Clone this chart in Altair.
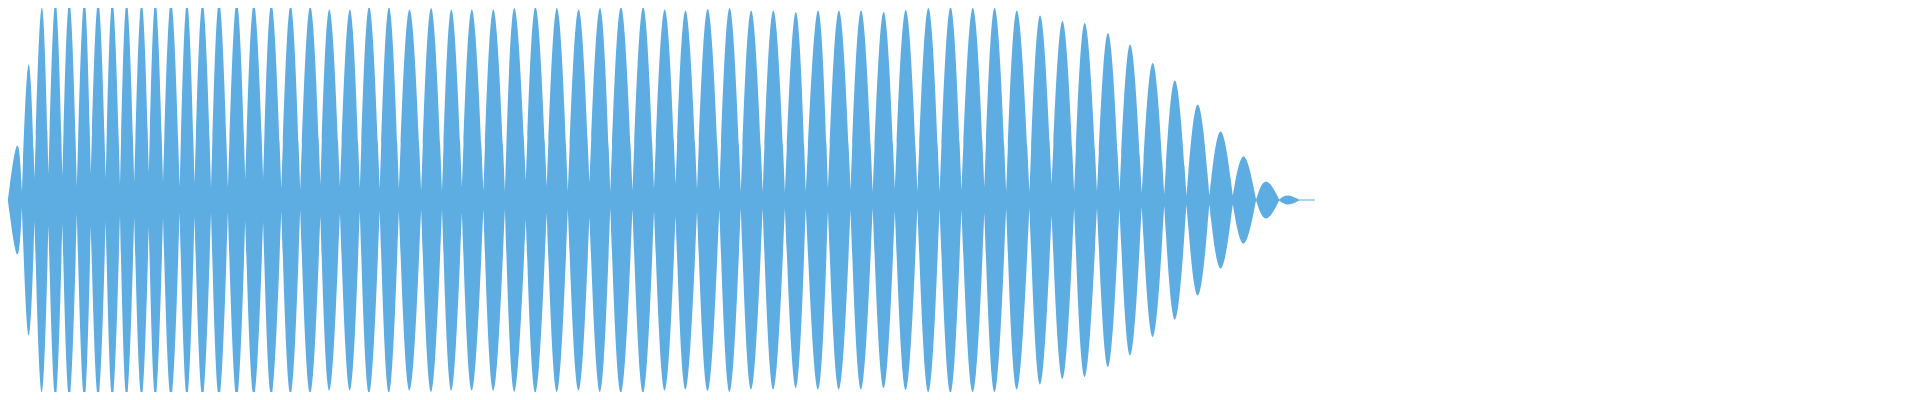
import altair as alt
import pandas as pd

# Peak envelope of the waveform (x in px, amplitude in px from centre line)
start_x, start_amp = 0, 1.0
end_x, end_amp = 1315, 0.5

lobe_x = [9.3, 20.7, 34, 47.7, 61.7, 76.7, 90.7, 105, 119.3, 134.3, 148.3,
          164, 180, 195.7, 212.3, 230, 247.3, 265, 284.3,
          304, 323.3, 344, 363.3, 383.3, 404, 425.7, 446,
          466.7, 488.3, 509.3, 530.7, 552.3, 574, 595.7,
          616.7, 639, 660.7, 681.7, 704, 726, 747.7, 770, 792.7,
          815, 836, 858.3, 881, 903.3, 926, 948.3,
          970.7, 992.7, 1015, 1038.3, 1061, 1083.3,
          1106.7, 1129, 1151.7, 1174, 1197, 1220, 1243.3, 1265.7, 1287.7]
lobe_amp = [54.5, 135.5, 192.5, 198, 198.5, 199.5, 198, 198.5, 198, 197, 198,
            198, 197, 197, 198, 198, 196, 196, 194.5,
            193.5, 190.5, 190.5, 193.5, 193, 190.5, 192, 190.5,
            190.5, 190.5, 192, 193, 192, 190.5, 192,
            193, 193, 190.5, 189.5, 191, 192, 189.5, 189.5, 188,
            189.5, 189.5, 189.5, 188, 190, 192, 193,
            192, 192, 189.5, 184.5, 179, 177,
            167, 155.5, 137, 119.5, 95.5, 68.5, 43.5, 18.5, 4.5]
valley_x = [14, 26.7, 40.7, 54.7, 69.3, 83.3, 98.3, 112.7, 127, 141.7, 156,
            172.7, 187.7, 204.3, 221.3, 238.7, 256.7, 275, 294,
            314.3, 334, 354, 374, 393.3, 415.7, 436.7, 456.7,
            478.3, 500, 521, 542, 563.3, 585, 606,
            628.3, 650, 671.7, 693.3, 715.7, 737.3, 759.3, 781.7, 802.7,
            825, 847.7, 870, 892.3, 915, 937.3, 959.3,
            982.3, 1004.3, 1027.7, 1050, 1072.7, 1095.7,
            1118.3, 1140.7, 1163.3, 1185.7, 1208.7, 1232.3, 1255.7, 1279, 1299]
valley_amp = [7.5, 21, 26, 23.5, 14, 26.5, 21.5, 15.5, 17.5, 27, 18,
              12.5, 17, 12.5, 12, 21, 22, 11, 10,
              16, 13, 11, 11, 11, 9, 9, 13,
              9, 9, 19, 13, 9, 17, 8,
              9, 11, 16, 11, 9, 8, 8, 8, 8,
              11, 10, 8, 11, 8, 8, 10,
              13, 8, 8, 15, 8, 8,
              8, 6.5, 5.5, 4.5, 4.5, 4.5, 0.5, 0.5, 0.4]

# B-spline control table: each valley is repeated three times (cusp through it),
# each peak control is placed so the smoothed curve passes through the read peak.
rows = [(start_x, start_amp)] * 3
prev_x, prev_a = start_x, start_amp
for lx, la, vx, va in zip(lobe_x, lobe_amp, valley_x, valley_amp):
    cx = (6 * lx - prev_x - vx) / 4
    ca = (6 * la - prev_a - va) / 4
    rows.append((cx, ca))
    rows += [(vx, va)] * 3
    prev_x, prev_a = vx, va
rows += [(end_x, end_amp)] * 3

df = pd.DataFrame(rows, columns=["x", "amp"])
df["neg"] = -df["amp"]

chart = alt.Chart(df).mark_area(
    interpolate="basis", color="#5DADE2", clip=True
).encode(
    x=alt.X("x:Q", scale=alt.Scale(domain=[0, 1315], nice=False, zero=False), axis=None),
    y=alt.Y("amp:Q", scale=alt.Scale(domain=[-192, 192], nice=False), axis=None),
    y2="neg:Q",
).properties(
    width=1307, height=384, padding=0, autosize=alt.AutoSizeParams(type="none")
).configure_view(stroke=None)

chart.save("out.html", embed_options={"renderer": "svg", "actions": False})
